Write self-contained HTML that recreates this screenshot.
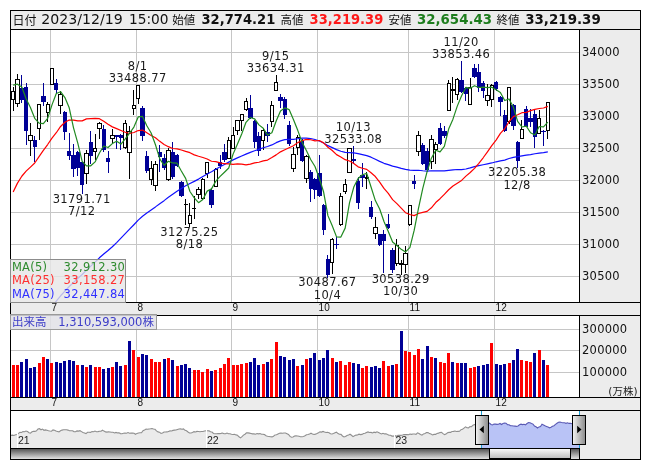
<!DOCTYPE html>
<html><head><meta charset="utf-8"><title>chart</title>
<style>html,body{margin:0;padding:0;background:#fff;}#wrap{position:relative;width:653px;height:470px;overflow:hidden;background:#fff;}</style>
</head><body><div id="wrap">
<svg width="653" height="470" viewBox="0 0 653 470" style="position:absolute;left:0;top:0">
<defs>
<clipPath id="cm"><rect x="11" y="30" width="568" height="272"/></clipPath>
<clipPath id="cv"><rect x="11" y="316" width="568" height="81"/></clipPath>
<clipPath id="cn"><rect x="11" y="411" width="569" height="37"/></clipPath>
<linearGradient id="gtrack" x1="0" y1="0" x2="0" y2="1"><stop offset="0" stop-color="#555"/><stop offset="1" stop-color="#e2e2e2"/></linearGradient>
<linearGradient id="gthumb" x1="0" y1="0" x2="0" y2="1"><stop offset="0" stop-color="#fbfbfb"/><stop offset="1" stop-color="#bdbdbd"/></linearGradient>
<linearGradient id="ghandle" x1="0" y1="0" x2="1" y2="0"><stop offset="0" stop-color="#f4f4f4"/><stop offset="1" stop-color="#8a8a8a"/></linearGradient>
</defs>
<rect x="10" y="10" width="631" height="450" fill="#ececec"/>
<rect x="11" y="30" width="568" height="272" fill="#fff"/>
<rect x="11" y="316" width="568" height="81" fill="#fff"/>
<rect x="11" y="411" width="569" height="37" fill="#fff"/>
<line x1="50.5" y1="30" x2="50.5" y2="302" stroke="#c6c6c6" stroke-width="1"/>
<line x1="50.5" y1="316" x2="50.5" y2="397" stroke="#c6c6c6" stroke-width="1"/>
<line x1="136.5" y1="30" x2="136.5" y2="302" stroke="#c6c6c6" stroke-width="1"/>
<line x1="136.5" y1="316" x2="136.5" y2="397" stroke="#c6c6c6" stroke-width="1"/>
<line x1="231.5" y1="30" x2="231.5" y2="302" stroke="#c6c6c6" stroke-width="1"/>
<line x1="231.5" y1="316" x2="231.5" y2="397" stroke="#c6c6c6" stroke-width="1"/>
<line x1="317.5" y1="30" x2="317.5" y2="302" stroke="#c6c6c6" stroke-width="1"/>
<line x1="317.5" y1="316" x2="317.5" y2="397" stroke="#c6c6c6" stroke-width="1"/>
<line x1="408.5" y1="30" x2="408.5" y2="302" stroke="#c6c6c6" stroke-width="1"/>
<line x1="408.5" y1="316" x2="408.5" y2="397" stroke="#c6c6c6" stroke-width="1"/>
<line x1="494.5" y1="30" x2="494.5" y2="302" stroke="#c6c6c6" stroke-width="1"/>
<line x1="494.5" y1="316" x2="494.5" y2="397" stroke="#c6c6c6" stroke-width="1"/>
<line x1="11" y1="52.5" x2="579" y2="52.5" stroke="#c6c6c6" stroke-width="1"/>
<line x1="11" y1="84.5" x2="579" y2="84.5" stroke="#c6c6c6" stroke-width="1"/>
<line x1="11" y1="116.5" x2="579" y2="116.5" stroke="#c6c6c6" stroke-width="1"/>
<line x1="11" y1="148.5" x2="579" y2="148.5" stroke="#c6c6c6" stroke-width="1"/>
<line x1="11" y1="180.5" x2="579" y2="180.5" stroke="#c6c6c6" stroke-width="1"/>
<line x1="11" y1="212.5" x2="579" y2="212.5" stroke="#c6c6c6" stroke-width="1"/>
<line x1="11" y1="244.5" x2="579" y2="244.5" stroke="#c6c6c6" stroke-width="1"/>
<line x1="11" y1="276.5" x2="579" y2="276.5" stroke="#c6c6c6" stroke-width="1"/>
<line x1="11" y1="329.5" x2="579" y2="329.5" stroke="#c6c6c6" stroke-width="1"/>
<line x1="11" y1="350.5" x2="579" y2="350.5" stroke="#c6c6c6" stroke-width="1"/>
<line x1="11" y1="372.5" x2="579" y2="372.5" stroke="#c6c6c6" stroke-width="1"/>
<g clip-path="url(#cm)">
<line x1="13.5" y1="87" x2="13.5" y2="111" stroke="#000" stroke-width="1"/>
<rect x="11.5" y="91.5" width="3" height="8" fill="#fff" stroke="#000" stroke-width="1"/>
<line x1="17.5" y1="74" x2="17.5" y2="107" stroke="#000" stroke-width="1"/>
<rect x="15.5" y="79.5" width="4" height="24" fill="#fff" stroke="#000" stroke-width="1"/>
<line x1="21.5" y1="75" x2="21.5" y2="103" stroke="#000096" stroke-width="1"/>
<rect x="20" y="88" width="4" height="12" fill="#000096"/>
<line x1="26.5" y1="83" x2="26.5" y2="145" stroke="#000096" stroke-width="1"/>
<rect x="24" y="87" width="4" height="44" fill="#000096"/>
<line x1="30.5" y1="123" x2="30.5" y2="156" stroke="#000" stroke-width="1"/>
<rect x="28.5" y="135.5" width="4" height="5" fill="#fff" stroke="#000" stroke-width="1"/>
<line x1="34.5" y1="136" x2="34.5" y2="162" stroke="#000096" stroke-width="1"/>
<rect x="33" y="140" width="4" height="7" fill="#000096"/>
<line x1="39.5" y1="104" x2="39.5" y2="140" stroke="#000" stroke-width="1"/>
<rect x="37.5" y="104.5" width="3" height="24" fill="#fff" stroke="#000" stroke-width="1"/>
<line x1="43.5" y1="83" x2="43.5" y2="106" stroke="#000096" stroke-width="1"/>
<rect x="41" y="96" width="5" height="6" fill="#000096"/>
<line x1="47.5" y1="102" x2="47.5" y2="122" stroke="#000" stroke-width="1"/>
<rect x="46.5" y="104.5" width="3" height="8" fill="#fff" stroke="#000" stroke-width="1"/>
<line x1="51.5" y1="68" x2="51.5" y2="85" stroke="#000" stroke-width="1"/>
<rect x="50.5" y="68.5" width="3" height="16" fill="#fff" stroke="#000" stroke-width="1"/>
<line x1="56.5" y1="79" x2="56.5" y2="93" stroke="#000096" stroke-width="1"/>
<rect x="54" y="83" width="4" height="7" fill="#000096"/>
<line x1="60.5" y1="91" x2="60.5" y2="114" stroke="#000" stroke-width="1"/>
<rect x="58.5" y="94.5" width="4" height="11" fill="#fff" stroke="#000" stroke-width="1"/>
<line x1="64.5" y1="111" x2="64.5" y2="140" stroke="#000096" stroke-width="1"/>
<rect x="63" y="112" width="4" height="20" fill="#000096"/>
<line x1="69.5" y1="133" x2="69.5" y2="160" stroke="#000096" stroke-width="1"/>
<rect x="67" y="151" width="4" height="5" fill="#000096"/>
<line x1="73.5" y1="144" x2="73.5" y2="177" stroke="#000096" stroke-width="1"/>
<rect x="71" y="155" width="5" height="14" fill="#000096"/>
<line x1="77.5" y1="151" x2="77.5" y2="176" stroke="#000096" stroke-width="1"/>
<rect x="76" y="152" width="4" height="16" fill="#000096"/>
<line x1="82.5" y1="162" x2="82.5" y2="194" stroke="#000096" stroke-width="1"/>
<rect x="80" y="162" width="4" height="23" fill="#000096"/>
<line x1="86.5" y1="150" x2="86.5" y2="184" stroke="#000" stroke-width="1"/>
<rect x="84.5" y="153.5" width="4" height="20" fill="#fff" stroke="#000" stroke-width="1"/>
<line x1="90.5" y1="131" x2="90.5" y2="164" stroke="#000096" stroke-width="1"/>
<rect x="89" y="142" width="4" height="14" fill="#000096"/>
<line x1="95.5" y1="134" x2="95.5" y2="160" stroke="#000" stroke-width="1"/>
<rect x="93.5" y="148.5" width="3" height="3" fill="#fff" stroke="#000" stroke-width="1"/>
<line x1="99.5" y1="122" x2="99.5" y2="139" stroke="#000" stroke-width="1"/>
<rect x="97.5" y="123.5" width="4" height="5" fill="#fff" stroke="#000" stroke-width="1"/>
<line x1="103.5" y1="125" x2="103.5" y2="152" stroke="#000096" stroke-width="1"/>
<rect x="102" y="129" width="4" height="21" fill="#000096"/>
<line x1="108.5" y1="151" x2="108.5" y2="173" stroke="#000096" stroke-width="1"/>
<rect x="106" y="158" width="4" height="4" fill="#000096"/>
<line x1="112.5" y1="129" x2="112.5" y2="144" stroke="#000" stroke-width="1"/>
<rect x="110.5" y="135.5" width="4" height="3" fill="#fff" stroke="#000" stroke-width="1"/>
<line x1="116.5" y1="135" x2="116.5" y2="149" stroke="#000096" stroke-width="1"/>
<rect x="115" y="135" width="4" height="2" fill="#000096"/>
<line x1="120.5" y1="134" x2="120.5" y2="150" stroke="#000096" stroke-width="1"/>
<rect x="119" y="135" width="4" height="3" fill="#000096"/>
<line x1="125.5" y1="120" x2="125.5" y2="149" stroke="#000" stroke-width="1"/>
<rect x="123.5" y="123.5" width="3" height="24" fill="#fff" stroke="#000" stroke-width="1"/>
<line x1="129.5" y1="126" x2="129.5" y2="179" stroke="#000" stroke-width="1"/>
<rect x="127.5" y="131.5" width="4" height="21" fill="#fff" stroke="#000" stroke-width="1"/>
<line x1="133.5" y1="90" x2="133.5" y2="115" stroke="#000" stroke-width="1"/>
<rect x="132.5" y="105.5" width="3" height="3" fill="#fff" stroke="#000" stroke-width="1"/>
<line x1="138.5" y1="85" x2="138.5" y2="104" stroke="#000" stroke-width="1"/>
<rect x="136.5" y="85.5" width="3" height="13" fill="#fff" stroke="#000" stroke-width="1"/>
<line x1="142.5" y1="106" x2="142.5" y2="141" stroke="#000096" stroke-width="1"/>
<rect x="140" y="108" width="5" height="28" fill="#000096"/>
<line x1="146.5" y1="151" x2="146.5" y2="173" stroke="#000096" stroke-width="1"/>
<rect x="145" y="156" width="4" height="15" fill="#000096"/>
<line x1="151.5" y1="161" x2="151.5" y2="185" stroke="#000" stroke-width="1"/>
<rect x="149.5" y="168.5" width="3" height="11" fill="#fff" stroke="#000" stroke-width="1"/>
<line x1="155.5" y1="161" x2="155.5" y2="191" stroke="#000" stroke-width="1"/>
<rect x="153.5" y="164.5" width="4" height="21" fill="#fff" stroke="#000" stroke-width="1"/>
<line x1="159.5" y1="145" x2="159.5" y2="172" stroke="#000096" stroke-width="1"/>
<rect x="158" y="152" width="4" height="5" fill="#000096"/>
<line x1="164.5" y1="154" x2="164.5" y2="170" stroke="#000096" stroke-width="1"/>
<rect x="162" y="158" width="4" height="10" fill="#000096"/>
<line x1="168.5" y1="148" x2="168.5" y2="181" stroke="#000" stroke-width="1"/>
<rect x="166.5" y="150.5" width="4" height="29" fill="#fff" stroke="#000" stroke-width="1"/>
<line x1="172.5" y1="142" x2="172.5" y2="179" stroke="#000096" stroke-width="1"/>
<rect x="171" y="152" width="4" height="25" fill="#000096"/>
<line x1="177.5" y1="154" x2="177.5" y2="167" stroke="#000096" stroke-width="1"/>
<rect x="175" y="155" width="4" height="11" fill="#000096"/>
<line x1="181.5" y1="181" x2="181.5" y2="197" stroke="#000096" stroke-width="1"/>
<rect x="179" y="182" width="5" height="14" fill="#000096"/>
<line x1="185.5" y1="199" x2="185.5" y2="225" stroke="#000" stroke-width="1"/>
<line x1="184" y1="204.5" x2="188" y2="204.5" stroke="#000" stroke-width="1"/>
<line x1="189.5" y1="203" x2="189.5" y2="227" stroke="#000" stroke-width="1"/>
<rect x="188.5" y="215.5" width="3" height="8" fill="#fff" stroke="#000" stroke-width="1"/>
<line x1="194.5" y1="196" x2="194.5" y2="219" stroke="#000" stroke-width="1"/>
<line x1="192" y1="208.5" x2="196" y2="208.5" stroke="#000" stroke-width="1"/>
<line x1="198.5" y1="187" x2="198.5" y2="199" stroke="#000" stroke-width="1"/>
<rect x="196.5" y="189.5" width="4" height="5" fill="#fff" stroke="#000" stroke-width="1"/>
<line x1="202.5" y1="178" x2="202.5" y2="200" stroke="#000" stroke-width="1"/>
<rect x="201.5" y="179.5" width="3" height="19" fill="#fff" stroke="#000" stroke-width="1"/>
<line x1="207.5" y1="162" x2="207.5" y2="178" stroke="#000" stroke-width="1"/>
<rect x="205.5" y="162.5" width="3" height="11" fill="#fff" stroke="#000" stroke-width="1"/>
<line x1="211.5" y1="188" x2="211.5" y2="208" stroke="#000096" stroke-width="1"/>
<rect x="209" y="190" width="5" height="15" fill="#000096"/>
<line x1="215.5" y1="168" x2="215.5" y2="187" stroke="#000" stroke-width="1"/>
<rect x="214.5" y="169.5" width="3" height="17" fill="#fff" stroke="#000" stroke-width="1"/>
<line x1="220.5" y1="155" x2="220.5" y2="169" stroke="#000096" stroke-width="1"/>
<rect x="218" y="162" width="4" height="4" fill="#000096"/>
<line x1="224.5" y1="144" x2="224.5" y2="162" stroke="#000096" stroke-width="1"/>
<rect x="222" y="152" width="5" height="8" fill="#000096"/>
<line x1="228.5" y1="137" x2="228.5" y2="159" stroke="#000" stroke-width="1"/>
<rect x="227.5" y="140.5" width="3" height="18" fill="#fff" stroke="#000" stroke-width="1"/>
<line x1="233.5" y1="127" x2="233.5" y2="149" stroke="#000" stroke-width="1"/>
<rect x="231.5" y="135.5" width="3" height="13" fill="#fff" stroke="#000" stroke-width="1"/>
<line x1="237.5" y1="120" x2="237.5" y2="135" stroke="#000" stroke-width="1"/>
<rect x="235.5" y="120.5" width="4" height="10" fill="#fff" stroke="#000" stroke-width="1"/>
<line x1="241.5" y1="114" x2="241.5" y2="131" stroke="#000" stroke-width="1"/>
<rect x="240.5" y="114.5" width="3" height="6" fill="#fff" stroke="#000" stroke-width="1"/>
<line x1="246.5" y1="98" x2="246.5" y2="111" stroke="#000" stroke-width="1"/>
<rect x="244.5" y="101.5" width="3" height="8" fill="#fff" stroke="#000" stroke-width="1"/>
<line x1="250.5" y1="95" x2="250.5" y2="119" stroke="#000096" stroke-width="1"/>
<rect x="248" y="108" width="5" height="10" fill="#000096"/>
<line x1="254.5" y1="120" x2="254.5" y2="148" stroke="#000096" stroke-width="1"/>
<rect x="253" y="121" width="4" height="21" fill="#000096"/>
<line x1="258.5" y1="132" x2="258.5" y2="156" stroke="#000096" stroke-width="1"/>
<rect x="257" y="136" width="4" height="15" fill="#000096"/>
<line x1="263.5" y1="128" x2="263.5" y2="150" stroke="#000" stroke-width="1"/>
<rect x="261.5" y="130.5" width="3" height="10" fill="#fff" stroke="#000" stroke-width="1"/>
<line x1="267.5" y1="124" x2="267.5" y2="142" stroke="#000096" stroke-width="1"/>
<rect x="265" y="132" width="5" height="4" fill="#000096"/>
<line x1="271.5" y1="101" x2="271.5" y2="127" stroke="#000" stroke-width="1"/>
<rect x="270.5" y="105.5" width="3" height="16" fill="#fff" stroke="#000" stroke-width="1"/>
<line x1="276.5" y1="75" x2="276.5" y2="91" stroke="#000" stroke-width="1"/>
<rect x="274.5" y="82.5" width="3" height="8" fill="#fff" stroke="#000" stroke-width="1"/>
<line x1="280.5" y1="94" x2="280.5" y2="108" stroke="#000096" stroke-width="1"/>
<rect x="278" y="97" width="5" height="4" fill="#000096"/>
<line x1="284.5" y1="97" x2="284.5" y2="119" stroke="#000096" stroke-width="1"/>
<rect x="283" y="99" width="4" height="16" fill="#000096"/>
<line x1="289.5" y1="121" x2="289.5" y2="146" stroke="#000096" stroke-width="1"/>
<rect x="287" y="125" width="4" height="19" fill="#000096"/>
<line x1="293.5" y1="147" x2="293.5" y2="172" stroke="#000" stroke-width="1"/>
<rect x="291.5" y="154.5" width="4" height="14" fill="#fff" stroke="#000" stroke-width="1"/>
<line x1="297.5" y1="135" x2="297.5" y2="155" stroke="#000" stroke-width="1"/>
<rect x="296.5" y="137.5" width="3" height="10" fill="#fff" stroke="#000" stroke-width="1"/>
<line x1="302.5" y1="139" x2="302.5" y2="162" stroke="#000096" stroke-width="1"/>
<rect x="300" y="141" width="4" height="20" fill="#000096"/>
<line x1="306.5" y1="155" x2="306.5" y2="183" stroke="#000" stroke-width="1"/>
<rect x="304.5" y="156.5" width="4" height="22" fill="#fff" stroke="#000" stroke-width="1"/>
<line x1="310.5" y1="170" x2="310.5" y2="202" stroke="#000096" stroke-width="1"/>
<rect x="309" y="172" width="4" height="17" fill="#000096"/>
<line x1="314.5" y1="178" x2="314.5" y2="199" stroke="#000096" stroke-width="1"/>
<rect x="313" y="179" width="4" height="11" fill="#000096"/>
<line x1="319.5" y1="155" x2="319.5" y2="197" stroke="#000096" stroke-width="1"/>
<rect x="317" y="173" width="5" height="23" fill="#000096"/>
<line x1="323.5" y1="204" x2="323.5" y2="235" stroke="#000096" stroke-width="1"/>
<rect x="322" y="205" width="4" height="25" fill="#000096"/>
<line x1="327.5" y1="255" x2="327.5" y2="278" stroke="#000096" stroke-width="1"/>
<rect x="326" y="259" width="4" height="16" fill="#000096"/>
<line x1="332.5" y1="238" x2="332.5" y2="274" stroke="#000" stroke-width="1"/>
<rect x="330.5" y="239.5" width="3" height="23" fill="#fff" stroke="#000" stroke-width="1"/>
<line x1="336.5" y1="237" x2="336.5" y2="249" stroke="#000096" stroke-width="1"/>
<line x1="334" y1="244.5" x2="339" y2="244.5" stroke="#000096" stroke-width="1"/>
<line x1="340.5" y1="193" x2="340.5" y2="226" stroke="#000" stroke-width="1"/>
<rect x="339.5" y="196.5" width="3" height="28" fill="#fff" stroke="#000" stroke-width="1"/>
<line x1="345.5" y1="179" x2="345.5" y2="194" stroke="#000" stroke-width="1"/>
<rect x="343.5" y="184.5" width="3" height="7" fill="#fff" stroke="#000" stroke-width="1"/>
<line x1="349.5" y1="148" x2="349.5" y2="173" stroke="#000" stroke-width="1"/>
<rect x="347.5" y="148.5" width="4" height="24" fill="#fff" stroke="#000" stroke-width="1"/>
<line x1="353.5" y1="146" x2="353.5" y2="164" stroke="#000096" stroke-width="1"/>
<rect x="352" y="159" width="4" height="2" fill="#000096"/>
<line x1="358.5" y1="177" x2="358.5" y2="209" stroke="#000096" stroke-width="1"/>
<rect x="356" y="181" width="4" height="22" fill="#000096"/>
<line x1="362.5" y1="163" x2="362.5" y2="187" stroke="#000096" stroke-width="1"/>
<rect x="360" y="175" width="5" height="3" fill="#000096"/>
<line x1="366.5" y1="172" x2="366.5" y2="189" stroke="#000" stroke-width="1"/>
<rect x="365.5" y="177.5" width="3" height="1" fill="#fff" stroke="#000" stroke-width="1"/>
<line x1="371.5" y1="201" x2="371.5" y2="219" stroke="#000096" stroke-width="1"/>
<rect x="369" y="207" width="4" height="10" fill="#000096"/>
<line x1="375.5" y1="217" x2="375.5" y2="239" stroke="#000" stroke-width="1"/>
<rect x="373.5" y="227.5" width="4" height="6" fill="#fff" stroke="#000" stroke-width="1"/>
<line x1="379.5" y1="234" x2="379.5" y2="246" stroke="#000096" stroke-width="1"/>
<rect x="378" y="234" width="4" height="11" fill="#000096"/>
<line x1="383.5" y1="230" x2="383.5" y2="273" stroke="#000096" stroke-width="1"/>
<rect x="382" y="234" width="4" height="7" fill="#000096"/>
<line x1="388.5" y1="214" x2="388.5" y2="229" stroke="#000096" stroke-width="1"/>
<rect x="386" y="224" width="4" height="4" fill="#000096"/>
<line x1="392.5" y1="248" x2="392.5" y2="273" stroke="#000096" stroke-width="1"/>
<rect x="390" y="250" width="5" height="20" fill="#000096"/>
<line x1="396.5" y1="239" x2="396.5" y2="266" stroke="#000" stroke-width="1"/>
<rect x="395.5" y="245.5" width="3" height="18" fill="#fff" stroke="#000" stroke-width="1"/>
<line x1="401.5" y1="260" x2="401.5" y2="275" stroke="#000" stroke-width="1"/>
<rect x="399.5" y="263.5" width="3" height="1" fill="#fff" stroke="#000" stroke-width="1"/>
<line x1="405.5" y1="246" x2="405.5" y2="273" stroke="#000" stroke-width="1"/>
<rect x="403.5" y="253.5" width="4" height="11" fill="#fff" stroke="#000" stroke-width="1"/>
<line x1="409.5" y1="205" x2="409.5" y2="226" stroke="#000" stroke-width="1"/>
<rect x="408.5" y="205.5" width="3" height="19" fill="#fff" stroke="#000" stroke-width="1"/>
<line x1="414.5" y1="175" x2="414.5" y2="189" stroke="#000096" stroke-width="1"/>
<rect x="412" y="181" width="4" height="3" fill="#000096"/>
<line x1="418.5" y1="131" x2="418.5" y2="156" stroke="#000" stroke-width="1"/>
<rect x="416.5" y="135.5" width="4" height="16" fill="#fff" stroke="#000" stroke-width="1"/>
<line x1="422.5" y1="143" x2="422.5" y2="165" stroke="#000096" stroke-width="1"/>
<rect x="421" y="145" width="4" height="19" fill="#000096"/>
<line x1="427.5" y1="148" x2="427.5" y2="172" stroke="#000096" stroke-width="1"/>
<rect x="425" y="151" width="4" height="19" fill="#000096"/>
<line x1="431.5" y1="135" x2="431.5" y2="169" stroke="#000" stroke-width="1"/>
<rect x="429.5" y="139.5" width="4" height="22" fill="#fff" stroke="#000" stroke-width="1"/>
<line x1="435.5" y1="142" x2="435.5" y2="164" stroke="#000" stroke-width="1"/>
<rect x="434.5" y="144.5" width="3" height="5" fill="#fff" stroke="#000" stroke-width="1"/>
<line x1="440.5" y1="123" x2="440.5" y2="145" stroke="#000096" stroke-width="1"/>
<rect x="438" y="128" width="4" height="16" fill="#000096"/>
<line x1="444.5" y1="126" x2="444.5" y2="138" stroke="#000096" stroke-width="1"/>
<rect x="442" y="131" width="5" height="5" fill="#000096"/>
<line x1="448.5" y1="80" x2="448.5" y2="111" stroke="#000" stroke-width="1"/>
<rect x="447.5" y="83.5" width="3" height="27" fill="#fff" stroke="#000" stroke-width="1"/>
<line x1="452.5" y1="77" x2="452.5" y2="103" stroke="#000" stroke-width="1"/>
<rect x="451.5" y="89.5" width="3" height="1" fill="#fff" stroke="#000" stroke-width="1"/>
<line x1="457.5" y1="78" x2="457.5" y2="100" stroke="#000" stroke-width="1"/>
<rect x="455.5" y="79.5" width="3" height="15" fill="#fff" stroke="#000" stroke-width="1"/>
<line x1="461.5" y1="61" x2="461.5" y2="93" stroke="#000096" stroke-width="1"/>
<rect x="459" y="80" width="5" height="12" fill="#000096"/>
<line x1="465.5" y1="87" x2="465.5" y2="101" stroke="#000096" stroke-width="1"/>
<rect x="464" y="88" width="4" height="6" fill="#000096"/>
<line x1="470.5" y1="78" x2="470.5" y2="105" stroke="#000" stroke-width="1"/>
<rect x="468.5" y="87.5" width="3" height="17" fill="#fff" stroke="#000" stroke-width="1"/>
<line x1="474.5" y1="64" x2="474.5" y2="78" stroke="#000096" stroke-width="1"/>
<rect x="472" y="68" width="5" height="9" fill="#000096"/>
<line x1="478.5" y1="64" x2="478.5" y2="92" stroke="#000096" stroke-width="1"/>
<rect x="477" y="72" width="4" height="16" fill="#000096"/>
<line x1="483.5" y1="81" x2="483.5" y2="98" stroke="#000096" stroke-width="1"/>
<rect x="481" y="83" width="4" height="8" fill="#000096"/>
<line x1="487.5" y1="84" x2="487.5" y2="106" stroke="#000" stroke-width="1"/>
<rect x="485.5" y="95.5" width="4" height="5" fill="#fff" stroke="#000" stroke-width="1"/>
<line x1="491.5" y1="84" x2="491.5" y2="107" stroke="#000" stroke-width="1"/>
<rect x="490.5" y="85.5" width="3" height="14" fill="#fff" stroke="#000" stroke-width="1"/>
<line x1="496.5" y1="81" x2="496.5" y2="91" stroke="#000096" stroke-width="1"/>
<rect x="494" y="82" width="4" height="7" fill="#000096"/>
<line x1="500.5" y1="96" x2="500.5" y2="116" stroke="#000096" stroke-width="1"/>
<rect x="498" y="97" width="5" height="5" fill="#000096"/>
<line x1="504.5" y1="110" x2="504.5" y2="132" stroke="#000096" stroke-width="1"/>
<rect x="503" y="115" width="4" height="16" fill="#000096"/>
<line x1="509.5" y1="87" x2="509.5" y2="124" stroke="#000" stroke-width="1"/>
<rect x="507.5" y="87.5" width="3" height="34" fill="#fff" stroke="#000" stroke-width="1"/>
<line x1="513.5" y1="104" x2="513.5" y2="130" stroke="#000096" stroke-width="1"/>
<rect x="511" y="105" width="5" height="21" fill="#000096"/>
<line x1="517.5" y1="141" x2="517.5" y2="168" stroke="#000096" stroke-width="1"/>
<rect x="516" y="142" width="4" height="19" fill="#000096"/>
<line x1="521.5" y1="120" x2="521.5" y2="139" stroke="#000" stroke-width="1"/>
<rect x="520.5" y="129.5" width="3" height="9" fill="#fff" stroke="#000" stroke-width="1"/>
<line x1="526.5" y1="106" x2="526.5" y2="127" stroke="#000096" stroke-width="1"/>
<rect x="524" y="109" width="4" height="18" fill="#000096"/>
<line x1="530.5" y1="109" x2="530.5" y2="127" stroke="#000096" stroke-width="1"/>
<rect x="528" y="118" width="5" height="4" fill="#000096"/>
<line x1="534.5" y1="110" x2="534.5" y2="148" stroke="#000096" stroke-width="1"/>
<rect x="533" y="114" width="4" height="23" fill="#000096"/>
<line x1="539.5" y1="110" x2="539.5" y2="134" stroke="#000" stroke-width="1"/>
<rect x="537.5" y="118.5" width="3" height="15" fill="#fff" stroke="#000" stroke-width="1"/>
<line x1="543.5" y1="130" x2="543.5" y2="146" stroke="#000096" stroke-width="1"/>
<line x1="541" y1="131.5" x2="546" y2="131.5" stroke="#000096" stroke-width="1"/>
<line x1="547.5" y1="102" x2="547.5" y2="139" stroke="#000" stroke-width="1"/>
<rect x="546.5" y="102.5" width="3" height="28" fill="#fff" stroke="#000" stroke-width="1"/>
</g>
<g clip-path="url(#cm)" fill="none" stroke-width="1.2" stroke-linejoin="round">
<path d="M17.48,340.51 L21.79,335.96 L26.11,332.08 L30.42,328.34 L34.73,324.84 L39.04,320.94 L43.35,316.60 L47.66,312.03 L51.98,306.45 L56.29,301.17 L60.60,295.77 L64.91,291.13 L69.22,286.48 L73.53,282.45 L77.85,278.37 L82.16,274.48 L86.47,270.26 L90.78,266.11 L95.09,262.17 L99.40,257.81 L103.72,254.01 L108.03,250.50 L112.34,246.73 L116.65,242.58 L120.96,238.14 L125.27,233.56 L129.59,229.19 L133.90,224.71 L138.21,220.10 L142.52,216.22 L146.83,213.09 L151.14,209.95 L155.46,206.89 L159.77,203.67 L164.08,200.64 L168.39,197.31 L172.70,194.35 L177.01,191.26 L181.33,188.40 L185.64,185.70 L189.95,183.48 L194.26,181.40 L198.57,179.10 L202.88,176.56 L207.20,173.96 L211.51,171.82 L215.82,169.23 L220.13,166.80 L224.44,164.49 L228.75,162.12 L233.07,159.89 L237.38,157.87 L241.69,155.97 L246.00,154.13 L250.31,152.40 L254.63,150.76 L258.94,149.33 L263.25,147.75 L267.56,146.49 L271.87,144.92 L276.18,142.66 L280.50,140.88 L284.81,139.60 L289.12,139.29 L293.43,139.38 L297.74,138.73 L302.05,138.16 L306.37,138.06 L310.68,138.54 L314.99,139.53 L319.30,141.02 L323.61,142.94 L327.92,145.65 L332.24,147.61 L336.55,149.65 L340.86,151.21 L345.17,152.35 L349.48,152.59 L353.79,152.92 L358.11,153.67 L362.42,154.65 L366.73,155.67 L371.04,157.17 L375.35,159.30 L379.66,161.37 L383.98,163.31 L388.29,164.59 L392.60,166.12 L396.91,167.14 L401.22,168.42 L405.53,169.35 L409.85,170.05 L414.16,170.42 L418.47,170.24 L422.78,170.77 L427.09,171.05 L431.40,170.76 L435.72,170.87 L440.03,170.96 L444.34,170.93 L448.65,170.40 L452.96,169.83 L457.28,169.48 L461.59,169.55 L465.90,169.00 L470.21,167.90 L474.52,166.67 L478.83,165.66 L483.15,164.78 L487.46,163.82 L491.77,162.96 L496.08,161.79 L500.39,160.94 L504.70,160.08 L509.02,158.53 L513.33,157.33 L517.64,156.69 L521.95,155.89 L526.26,155.18 L530.57,154.64 L534.89,153.73 L539.20,153.05 L543.51,152.59 L547.82,151.84" stroke="#1010ff"/>
<path d="M13.17,192.04 L17.48,183.13 L21.79,176.24 L26.11,171.19 L30.42,167.06 L34.73,163.01 L39.04,156.58 L43.35,150.36 L47.66,144.54 L51.98,138.09 L56.29,132.72 L60.60,126.45 L64.91,122.29 L69.22,120.08 L73.53,120.15 L77.85,120.93 L82.16,120.85 L86.47,118.86 L90.78,118.53 L95.09,118.38 L99.40,118.69 L103.72,121.28 L108.03,124.31 L112.34,126.88 L116.65,128.64 L120.96,130.49 L125.27,132.24 L129.59,133.53 L133.90,132.53 L138.21,130.54 L142.52,130.11 L146.83,132.76 L151.14,135.42 L155.46,137.82 L159.77,141.34 L164.08,144.46 L168.39,146.67 L172.70,148.50 L177.01,148.88 L181.33,149.96 L185.64,151.44 L189.95,152.70 L194.26,154.89 L198.57,156.26 L202.88,157.50 L207.20,159.05 L211.51,161.27 L215.82,161.62 L220.13,162.83 L224.44,163.72 L228.75,163.85 L233.07,164.31 L237.38,163.85 L241.69,164.20 L246.00,164.80 L250.31,164.07 L254.63,162.93 L258.94,162.22 L263.25,160.89 L267.56,160.04 L271.87,157.58 L276.18,154.87 L280.50,151.84 L284.81,149.83 L289.12,147.77 L293.43,145.78 L297.74,142.64 L302.05,140.72 L306.37,139.40 L310.68,139.75 L314.99,140.85 L319.30,140.51 L323.61,142.89 L327.92,147.24 L332.24,150.47 L336.55,154.62 L340.86,157.09 L345.17,159.66 L349.48,161.05 L353.79,163.42 L358.11,166.83 L362.42,168.28 L366.73,169.37 L371.04,172.81 L375.35,176.51 L379.66,182.07 L383.98,188.39 L388.29,193.44 L392.60,199.64 L396.91,203.68 L401.22,208.05 L405.53,212.71 L409.85,214.54 L414.16,215.62 L418.47,213.48 L422.78,212.42 L427.09,211.37 L431.40,207.77 L435.72,202.54 L440.03,198.68 L444.34,194.32 L448.65,189.78 L452.96,185.97 L457.28,183.18 L461.59,180.44 L465.90,176.10 L470.21,172.49 L474.52,168.43 L478.83,163.27 L483.15,157.77 L487.46,151.82 L491.77,145.62 L496.08,140.08 L500.39,133.35 L504.70,128.78 L509.02,121.75 L513.33,116.63 L517.64,114.82 L521.95,112.67 L526.26,112.32 L530.57,110.65 L534.89,109.31 L539.20,108.49 L543.51,108.00 L547.82,106.37" stroke="#ff0000"/>
<path d="M13.17,85.10 L17.48,84.17 L21.79,86.99 L26.11,98.82 L30.42,107.42 L34.73,118.31 L39.04,123.19 L43.35,123.58 L47.66,118.36 L51.98,104.87 L56.29,93.55 L60.60,91.70 L64.91,97.60 L69.22,107.85 L73.53,127.86 L77.85,143.46 L82.16,161.32 L86.47,165.84 L90.78,165.81 L95.09,161.91 L99.40,153.05 L103.72,146.05 L108.03,147.53 L112.34,143.57 L116.65,141.15 L120.96,144.07 L125.27,138.94 L129.59,133.12 L133.90,127.08 L138.21,116.92 L142.52,116.41 L146.83,125.78 L151.14,133.03 L155.46,144.78 L159.77,158.85 L164.08,165.29 L168.39,161.27 L172.70,162.97 L177.01,163.17 L181.33,170.98 L185.64,178.38 L189.95,191.48 L194.26,197.80 L198.57,202.70 L202.88,199.58 L207.20,191.12 L211.51,188.90 L215.82,181.16 L220.13,176.42 L224.44,172.28 L228.75,168.03 L233.07,154.13 L237.38,144.28 L241.69,133.92 L246.00,122.30 L250.31,117.54 L254.63,118.87 L258.94,124.90 L263.25,128.24 L267.56,135.08 L271.87,132.81 L276.18,120.96 L280.50,111.04 L284.81,107.87 L289.12,109.61 L293.43,119.41 L297.74,130.34 L302.05,142.22 L306.37,150.56 L310.68,159.50 L314.99,166.47 L319.30,178.23 L323.61,192.02 L327.92,215.64 L332.24,225.84 L336.55,236.89 L340.86,237.06 L345.17,228.12 L349.48,202.93 L353.79,187.05 L358.11,178.55 L362.42,174.79 L366.73,173.43 L371.04,187.05 L375.35,200.58 L379.66,209.02 L383.98,221.54 L388.29,231.42 L392.60,242.03 L396.91,245.46 L401.22,249.33 L405.53,251.93 L409.85,247.69 L414.16,230.43 L418.47,208.46 L422.78,188.30 L427.09,171.56 L431.40,158.19 L435.72,150.27 L440.03,151.85 L444.34,146.43 L448.65,129.10 L452.96,119.15 L457.28,106.13 L461.59,95.85 L465.90,87.43 L470.21,88.29 L474.52,85.72 L478.83,87.48 L483.15,87.22 L487.46,87.64 L491.77,87.19 L496.08,89.68 L500.39,92.45 L504.70,100.54 L509.02,98.95 L513.33,106.99 L517.64,121.37 L521.95,127.00 L526.26,126.14 L530.57,132.79 L534.89,134.99 L539.20,126.51 L543.51,126.93 L547.82,122.11" stroke="#218a21"/>
</g>
<g clip-path="url(#cv)">
<rect x="12" y="365" width="3" height="32" fill="#ff0000"/>
<rect x="16" y="365" width="3" height="32" fill="#ff0000"/>
<rect x="20" y="362" width="3" height="35" fill="#000096"/>
<rect x="25" y="359" width="3" height="38" fill="#000096"/>
<rect x="29" y="368" width="3" height="29" fill="#000096"/>
<rect x="33" y="367" width="3" height="30" fill="#000096"/>
<rect x="38" y="363" width="3" height="34" fill="#ff0000"/>
<rect x="42" y="357" width="3" height="40" fill="#ff0000"/>
<rect x="46" y="359" width="3" height="38" fill="#000096"/>
<rect x="50" y="363" width="3" height="34" fill="#ff0000"/>
<rect x="55" y="362" width="3" height="35" fill="#000096"/>
<rect x="59" y="363" width="3" height="34" fill="#000096"/>
<rect x="63" y="361" width="3" height="36" fill="#000096"/>
<rect x="68" y="360" width="3" height="37" fill="#000096"/>
<rect x="72" y="361" width="3" height="36" fill="#000096"/>
<rect x="76" y="365" width="3" height="32" fill="#ff0000"/>
<rect x="81" y="365" width="3" height="32" fill="#000096"/>
<rect x="85" y="367" width="3" height="30" fill="#ff0000"/>
<rect x="89" y="365" width="3" height="32" fill="#000096"/>
<rect x="94" y="367" width="3" height="30" fill="#ff0000"/>
<rect x="98" y="367" width="3" height="30" fill="#ff0000"/>
<rect x="102" y="369" width="3" height="28" fill="#000096"/>
<rect x="107" y="368" width="3" height="29" fill="#000096"/>
<rect x="111" y="367" width="3" height="30" fill="#ff0000"/>
<rect x="115" y="362" width="3" height="35" fill="#000096"/>
<rect x="119" y="366" width="3" height="31" fill="#000096"/>
<rect x="124" y="365" width="3" height="32" fill="#ff0000"/>
<rect x="128" y="341" width="3" height="56" fill="#000096"/>
<rect x="132" y="350" width="3" height="47" fill="#ff0000"/>
<rect x="137" y="357" width="3" height="40" fill="#ff0000"/>
<rect x="141" y="354" width="3" height="43" fill="#000096"/>
<rect x="145" y="355" width="3" height="42" fill="#000096"/>
<rect x="150" y="359" width="3" height="38" fill="#ff0000"/>
<rect x="154" y="362" width="3" height="35" fill="#ff0000"/>
<rect x="158" y="362" width="3" height="35" fill="#ff0000"/>
<rect x="163" y="359" width="3" height="38" fill="#000096"/>
<rect x="167" y="358" width="3" height="39" fill="#ff0000"/>
<rect x="171" y="360" width="3" height="37" fill="#000096"/>
<rect x="176" y="366" width="3" height="31" fill="#ff0000"/>
<rect x="180" y="365" width="3" height="32" fill="#000096"/>
<rect x="184" y="364" width="3" height="33" fill="#000096"/>
<rect x="188" y="368" width="3" height="29" fill="#000096"/>
<rect x="193" y="370" width="3" height="27" fill="#ff0000"/>
<rect x="197" y="370" width="3" height="27" fill="#ff0000"/>
<rect x="201" y="372" width="3" height="25" fill="#ff0000"/>
<rect x="206" y="369" width="3" height="28" fill="#ff0000"/>
<rect x="210" y="371" width="3" height="26" fill="#000096"/>
<rect x="214" y="370" width="3" height="27" fill="#ff0000"/>
<rect x="219" y="368" width="3" height="29" fill="#ff0000"/>
<rect x="223" y="364" width="3" height="33" fill="#ff0000"/>
<rect x="227" y="358" width="3" height="39" fill="#ff0000"/>
<rect x="232" y="365" width="3" height="32" fill="#ff0000"/>
<rect x="236" y="365" width="3" height="32" fill="#ff0000"/>
<rect x="240" y="364" width="3" height="33" fill="#ff0000"/>
<rect x="245" y="363" width="3" height="34" fill="#ff0000"/>
<rect x="249" y="362" width="3" height="35" fill="#000096"/>
<rect x="253" y="358" width="3" height="39" fill="#000096"/>
<rect x="257" y="365" width="3" height="32" fill="#000096"/>
<rect x="262" y="364" width="3" height="33" fill="#ff0000"/>
<rect x="266" y="362" width="3" height="35" fill="#000096"/>
<rect x="270" y="359" width="3" height="38" fill="#ff0000"/>
<rect x="275" y="342" width="3" height="55" fill="#ff0000"/>
<rect x="279" y="356" width="3" height="41" fill="#000096"/>
<rect x="283" y="357" width="3" height="40" fill="#000096"/>
<rect x="288" y="360" width="3" height="37" fill="#000096"/>
<rect x="292" y="359" width="3" height="38" fill="#000096"/>
<rect x="296" y="366" width="3" height="31" fill="#ff0000"/>
<rect x="301" y="365" width="3" height="32" fill="#000096"/>
<rect x="305" y="359" width="3" height="38" fill="#ff0000"/>
<rect x="309" y="358" width="3" height="39" fill="#000096"/>
<rect x="313" y="353" width="3" height="44" fill="#000096"/>
<rect x="318" y="360" width="3" height="37" fill="#000096"/>
<rect x="322" y="358" width="3" height="39" fill="#000096"/>
<rect x="326" y="350" width="3" height="47" fill="#000096"/>
<rect x="331" y="358" width="3" height="39" fill="#ff0000"/>
<rect x="335" y="362" width="3" height="35" fill="#000096"/>
<rect x="339" y="361" width="3" height="36" fill="#ff0000"/>
<rect x="344" y="365" width="3" height="32" fill="#ff0000"/>
<rect x="348" y="362" width="3" height="35" fill="#ff0000"/>
<rect x="352" y="363" width="3" height="34" fill="#000096"/>
<rect x="357" y="364" width="3" height="33" fill="#000096"/>
<rect x="361" y="368" width="3" height="29" fill="#ff0000"/>
<rect x="365" y="366" width="3" height="31" fill="#ff0000"/>
<rect x="370" y="367" width="3" height="30" fill="#000096"/>
<rect x="374" y="366" width="3" height="31" fill="#000096"/>
<rect x="378" y="368" width="3" height="29" fill="#000096"/>
<rect x="382" y="361" width="3" height="36" fill="#ff0000"/>
<rect x="387" y="366" width="3" height="31" fill="#ff0000"/>
<rect x="391" y="365" width="3" height="32" fill="#000096"/>
<rect x="395" y="364" width="3" height="33" fill="#ff0000"/>
<rect x="400" y="331" width="3" height="66" fill="#000096"/>
<rect x="404" y="351" width="3" height="46" fill="#ff0000"/>
<rect x="408" y="352" width="3" height="45" fill="#ff0000"/>
<rect x="413" y="355" width="3" height="42" fill="#ff0000"/>
<rect x="417" y="349" width="3" height="48" fill="#ff0000"/>
<rect x="421" y="359" width="3" height="38" fill="#000096"/>
<rect x="426" y="346" width="3" height="51" fill="#000096"/>
<rect x="430" y="357" width="3" height="40" fill="#ff0000"/>
<rect x="434" y="358" width="3" height="39" fill="#000096"/>
<rect x="439" y="362" width="3" height="35" fill="#ff0000"/>
<rect x="443" y="363" width="3" height="34" fill="#ff0000"/>
<rect x="447" y="353" width="3" height="44" fill="#ff0000"/>
<rect x="451" y="362" width="3" height="35" fill="#000096"/>
<rect x="456" y="363" width="3" height="34" fill="#ff0000"/>
<rect x="460" y="363" width="3" height="34" fill="#000096"/>
<rect x="464" y="363" width="3" height="34" fill="#000096"/>
<rect x="469" y="368" width="3" height="29" fill="#ff0000"/>
<rect x="473" y="367" width="3" height="30" fill="#ff0000"/>
<rect x="477" y="366" width="3" height="31" fill="#000096"/>
<rect x="482" y="365" width="3" height="32" fill="#000096"/>
<rect x="486" y="364" width="3" height="33" fill="#000096"/>
<rect x="490" y="343" width="3" height="54" fill="#ff0000"/>
<rect x="495" y="364" width="3" height="33" fill="#000096"/>
<rect x="499" y="365" width="3" height="32" fill="#000096"/>
<rect x="503" y="364" width="3" height="33" fill="#000096"/>
<rect x="508" y="363" width="3" height="34" fill="#ff0000"/>
<rect x="512" y="360" width="3" height="37" fill="#000096"/>
<rect x="516" y="349" width="3" height="48" fill="#000096"/>
<rect x="520" y="360" width="3" height="37" fill="#ff0000"/>
<rect x="525" y="361" width="3" height="36" fill="#ff0000"/>
<rect x="529" y="362" width="3" height="35" fill="#ff0000"/>
<rect x="533" y="353" width="3" height="44" fill="#000096"/>
<rect x="538" y="350" width="3" height="47" fill="#ff0000"/>
<rect x="542" y="360" width="3" height="37" fill="#000096"/>
<rect x="546" y="365" width="3" height="32" fill="#ff0000"/>
</g>
<line x1="10" y1="10.5" x2="641" y2="10.5" stroke="#000" stroke-width="1"/>
<line x1="10" y1="459.5" x2="641" y2="459.5" stroke="#000" stroke-width="1"/>
<line x1="10.5" y1="10" x2="10.5" y2="460" stroke="#000" stroke-width="1"/>
<line x1="640.5" y1="10" x2="640.5" y2="460" stroke="#000" stroke-width="1"/>
<line x1="10" y1="29.5" x2="641" y2="29.5" stroke="#000" stroke-width="1"/>
<line x1="10" y1="302.5" x2="641" y2="302.5" stroke="#000" stroke-width="1"/>
<line x1="10" y1="315.5" x2="641" y2="315.5" stroke="#000" stroke-width="1"/>
<line x1="10" y1="397.5" x2="641" y2="397.5" stroke="#000" stroke-width="1"/>
<line x1="10" y1="410.5" x2="641" y2="410.5" stroke="#000" stroke-width="1"/>
<line x1="10" y1="448.5" x2="580" y2="448.5" stroke="#000" stroke-width="1"/>
<line x1="579.5" y1="29" x2="579.5" y2="303" stroke="#000" stroke-width="1"/>
<line x1="579.5" y1="315" x2="579.5" y2="398" stroke="#000" stroke-width="1"/>
<text x="582" y="55.9" font-family='"DejaVu Sans", "Liberation Sans", sans-serif' font-size="11.5" letter-spacing="0.25" fill="#111">34000</text>
<text x="582" y="87.9" font-family='"DejaVu Sans", "Liberation Sans", sans-serif' font-size="11.5" letter-spacing="0.25" fill="#111">33500</text>
<text x="582" y="119.9" font-family='"DejaVu Sans", "Liberation Sans", sans-serif' font-size="11.5" letter-spacing="0.25" fill="#111">33000</text>
<text x="582" y="151.9" font-family='"DejaVu Sans", "Liberation Sans", sans-serif' font-size="11.5" letter-spacing="0.25" fill="#111">32500</text>
<text x="582" y="183.9" font-family='"DejaVu Sans", "Liberation Sans", sans-serif' font-size="11.5" letter-spacing="0.25" fill="#111">32000</text>
<text x="582" y="215.9" font-family='"DejaVu Sans", "Liberation Sans", sans-serif' font-size="11.5" letter-spacing="0.25" fill="#111">31500</text>
<text x="582" y="247.9" font-family='"DejaVu Sans", "Liberation Sans", sans-serif' font-size="11.5" letter-spacing="0.25" fill="#111">31000</text>
<text x="582" y="279.9" font-family='"DejaVu Sans", "Liberation Sans", sans-serif' font-size="11.5" letter-spacing="0.25" fill="#111">30500</text>
<text x="582" y="333.0" font-family='"DejaVu Sans", "Liberation Sans", sans-serif' font-size="11.5" letter-spacing="0.25" fill="#111">300000</text>
<text x="582" y="354.0" font-family='"DejaVu Sans", "Liberation Sans", sans-serif' font-size="11.5" letter-spacing="0.25" fill="#111">200000</text>
<text x="582" y="376.0" font-family='"DejaVu Sans", "Liberation Sans", sans-serif' font-size="11.5" letter-spacing="0.25" fill="#111">100000</text>
<text x="637.5" y="394.5" text-anchor="end" font-family='"DejaVu Sans", "Noto Sans CJK JP", sans-serif' font-size="10.5" fill="#222">(万株)</text>
<text x="51.6" y="311" font-family='"Liberation Sans", sans-serif' font-size="10" fill="#111">7</text>
<text x="51.6" y="406" font-family='"Liberation Sans", sans-serif' font-size="10" fill="#111">7</text>
<text x="137.6" y="311" font-family='"Liberation Sans", sans-serif' font-size="10" fill="#111">8</text>
<text x="137.6" y="406" font-family='"Liberation Sans", sans-serif' font-size="10" fill="#111">8</text>
<text x="232.6" y="311" font-family='"Liberation Sans", sans-serif' font-size="10" fill="#111">9</text>
<text x="232.6" y="406" font-family='"Liberation Sans", sans-serif' font-size="10" fill="#111">9</text>
<text x="318.6" y="311" font-family='"Liberation Sans", sans-serif' font-size="10" fill="#111">10</text>
<text x="318.6" y="406" font-family='"Liberation Sans", sans-serif' font-size="10" fill="#111">10</text>
<text x="409.6" y="311" font-family='"Liberation Sans", sans-serif' font-size="10" fill="#111">11</text>
<text x="409.6" y="406" font-family='"Liberation Sans", sans-serif' font-size="10" fill="#111">11</text>
<text x="495.6" y="311" font-family='"Liberation Sans", sans-serif' font-size="10" fill="#111">12</text>
<text x="495.6" y="406" font-family='"Liberation Sans", sans-serif' font-size="10" fill="#111">12</text>
<text x="81.7" y="202.7" text-anchor="middle" font-family='"DejaVu Sans", "Liberation Sans", sans-serif' font-size="11.5" letter-spacing="0.4" fill="#1a1a1a">31791.71</text>
<text x="81.7" y="215.1" text-anchor="middle" font-family='"DejaVu Sans", "Liberation Sans", sans-serif' font-size="11.5" letter-spacing="0.4" fill="#1a1a1a">7/12</text>
<text x="137.7" y="69.7" text-anchor="middle" font-family='"DejaVu Sans", "Liberation Sans", sans-serif' font-size="11.5" letter-spacing="0.4" fill="#1a1a1a">8/1</text>
<text x="137.7" y="81.7" text-anchor="middle" font-family='"DejaVu Sans", "Liberation Sans", sans-serif' font-size="11.5" letter-spacing="0.4" fill="#1a1a1a">33488.77</text>
<text x="189.4" y="235.8" text-anchor="middle" font-family='"DejaVu Sans", "Liberation Sans", sans-serif' font-size="11.5" letter-spacing="0.4" fill="#1a1a1a">31275.25</text>
<text x="189.4" y="248.2" text-anchor="middle" font-family='"DejaVu Sans", "Liberation Sans", sans-serif' font-size="11.5" letter-spacing="0.4" fill="#1a1a1a">8/18</text>
<text x="275.7" y="60.2" text-anchor="middle" font-family='"DejaVu Sans", "Liberation Sans", sans-serif' font-size="11.5" letter-spacing="0.4" fill="#1a1a1a">9/15</text>
<text x="275.7" y="72.2" text-anchor="middle" font-family='"DejaVu Sans", "Liberation Sans", sans-serif' font-size="11.5" letter-spacing="0.4" fill="#1a1a1a">33634.31</text>
<text x="327.4" y="286.2" text-anchor="middle" font-family='"DejaVu Sans", "Liberation Sans", sans-serif' font-size="11.5" letter-spacing="0.4" fill="#1a1a1a">30487.67</text>
<text x="327.4" y="298.6" text-anchor="middle" font-family='"DejaVu Sans", "Liberation Sans", sans-serif' font-size="11.5" letter-spacing="0.4" fill="#1a1a1a">10/4</text>
<text x="353.3" y="130.7" text-anchor="middle" font-family='"DejaVu Sans", "Liberation Sans", sans-serif' font-size="11.5" letter-spacing="0.4" fill="#1a1a1a">10/13</text>
<text x="353.3" y="142.7" text-anchor="middle" font-family='"DejaVu Sans", "Liberation Sans", sans-serif' font-size="11.5" letter-spacing="0.4" fill="#1a1a1a">32533.08</text>
<text x="400.7" y="282.9" text-anchor="middle" font-family='"DejaVu Sans", "Liberation Sans", sans-serif' font-size="11.5" letter-spacing="0.4" fill="#1a1a1a">30538.29</text>
<text x="400.7" y="295.3" text-anchor="middle" font-family='"DejaVu Sans", "Liberation Sans", sans-serif' font-size="11.5" letter-spacing="0.4" fill="#1a1a1a">10/30</text>
<text x="461.1" y="46.2" text-anchor="middle" font-family='"DejaVu Sans", "Liberation Sans", sans-serif' font-size="11.5" letter-spacing="0.4" fill="#1a1a1a">11/20</text>
<text x="461.1" y="58.2" text-anchor="middle" font-family='"DejaVu Sans", "Liberation Sans", sans-serif' font-size="11.5" letter-spacing="0.4" fill="#1a1a1a">33853.46</text>
<text x="517.1" y="176.1" text-anchor="middle" font-family='"DejaVu Sans", "Liberation Sans", sans-serif' font-size="11.5" letter-spacing="0.4" fill="#1a1a1a">32205.38</text>
<text x="517.1" y="188.5" text-anchor="middle" font-family='"DejaVu Sans", "Liberation Sans", sans-serif' font-size="11.5" letter-spacing="0.4" fill="#1a1a1a">12/8</text>
<rect x="10.5" y="259.5" width="115" height="43" fill="#e6e6e6" fill-opacity="0.8" stroke="#8c8c8c" stroke-width="1"/>
<text x="12" y="270.6" font-family='"DejaVu Sans", "Liberation Sans", sans-serif' font-size="11.5" letter-spacing="0.2" fill="#2e8b2e">MA(5)</text>
<text x="125.3" y="270.6" text-anchor="end" font-family='"DejaVu Sans", "Liberation Sans", sans-serif' font-size="11.5" letter-spacing="0.35" fill="#2e8b2e">32,912.30</text>
<text x="12" y="284.1" font-family='"DejaVu Sans", "Liberation Sans", sans-serif' font-size="11.5" letter-spacing="0.2" fill="#ff3030">MA(25)</text>
<text x="125.3" y="284.1" text-anchor="end" font-family='"DejaVu Sans", "Liberation Sans", sans-serif' font-size="11.5" letter-spacing="0.35" fill="#ff3030">33,158.27</text>
<text x="12" y="297.6" font-family='"DejaVu Sans", "Liberation Sans", sans-serif' font-size="11.5" letter-spacing="0.2" fill="#3030ff">MA(75)</text>
<text x="125.3" y="297.6" text-anchor="end" font-family='"DejaVu Sans", "Liberation Sans", sans-serif' font-size="11.5" letter-spacing="0.35" fill="#3030ff">32,447.84</text>
<rect x="10.5" y="314.5" width="146" height="15" fill="#e0e0e6" fill-opacity="0.85" stroke="#9a9a9a" stroke-width="1"/>
<text x="12" y="325.8" font-family='"DejaVu Sans", "Noto Sans CJK JP", sans-serif' font-size="11.5" fill="#3c3cc8">出来高</text>
<text x="58.3" y="325.8" font-family='"DejaVu Sans", "Noto Sans CJK JP", sans-serif' font-size="11.5" fill="#3c3cc8">1,310,593,000株</text>
<text x="12.6" y="24.6" font-family='"DejaVu Sans", "Noto Sans CJK JP", sans-serif' font-size="12" font-weight="normal" fill="#111">日付</text>
<text x="41.2" y="23.5" font-family='"DejaVu Sans", "Liberation Sans", sans-serif' font-size="13.6" font-weight="normal" fill="#111" textLength="81.6" lengthAdjust="spacingAndGlyphs">2023/12/19</text>
<text x="129.0" y="23.5" font-family='"DejaVu Sans", "Liberation Sans", sans-serif' font-size="13.6" font-weight="normal" fill="#111" textLength="39.6" lengthAdjust="spacingAndGlyphs">15:00</text>
<text x="172.3" y="24.4" font-family='"DejaVu Sans", "Noto Sans CJK JP", sans-serif' font-size="11.5" font-weight="normal" fill="#111">始値</text>
<text x="201.5" y="24.3" font-family='"DejaVu Sans", "Liberation Sans", sans-serif' font-size="13.3" font-weight="bold" fill="#111" textLength="73.8" lengthAdjust="spacingAndGlyphs">32,774.21</text>
<text x="280.6" y="24.4" font-family='"DejaVu Sans", "Noto Sans CJK JP", sans-serif' font-size="11.5" font-weight="normal" fill="#111">高値</text>
<text x="309.6" y="24.3" font-family='"DejaVu Sans", "Liberation Sans", sans-serif' font-size="13.3" font-weight="bold" fill="#ff1a1a" textLength="73.7" lengthAdjust="spacingAndGlyphs">33,219.39</text>
<text x="388.4" y="24.4" font-family='"DejaVu Sans", "Noto Sans CJK JP", sans-serif' font-size="11.5" font-weight="normal" fill="#111">安値</text>
<text x="417.0" y="24.3" font-family='"DejaVu Sans", "Liberation Sans", sans-serif' font-size="13.3" font-weight="bold" fill="#1e7d1e" textLength="75.0" lengthAdjust="spacingAndGlyphs">32,654.43</text>
<text x="496.6" y="24.4" font-family='"DejaVu Sans", "Noto Sans CJK JP", sans-serif' font-size="11.5" font-weight="normal" fill="#111">終値</text>
<text x="525.2" y="24.3" font-family='"DejaVu Sans", "Liberation Sans", sans-serif' font-size="13.3" font-weight="bold" fill="#111" textLength="75.6" lengthAdjust="spacingAndGlyphs">33,219.39</text>
<g clip-path="url(#cn)">
<path d="M11.0,448 L11.0,435.4 L12.5,435.1 L14.0,435.5 L15.5,434.7 L17.0,434.5 L18.5,433.4 L20.0,432.4 L21.5,432.5 L23.0,431.6 L24.5,431.8 L26.0,431.1 L27.5,431.6 L29.0,432.7 L30.5,433.1 L32.0,431.8 L33.5,431.4 L35.0,431.4 L36.5,430.8 L38.0,429.0 L39.5,428.6 L41.0,429.8 L42.5,429.1 L44.0,430.3 L45.5,429.9 L47.0,430.2 L48.5,430.7 L50.0,431.0 L51.5,431.2 L53.0,429.9 L54.5,430.3 L56.0,431.1 L57.5,431.5 L59.0,431.9 L60.5,430.7 L62.0,430.1 L63.5,429.7 L65.0,429.8 L66.5,429.8 L68.0,430.1 L69.5,430.7 L71.0,430.8 L72.5,430.8 L74.0,431.6 L75.5,431.7 L77.0,430.9 L78.5,431.1 L80.0,430.7 L81.5,431.6 L83.0,432.5 L84.5,433.0 L86.0,433.6 L87.5,432.3 L89.0,432.3 L90.5,432.4 L92.0,431.6 L93.5,431.8 L95.0,431.1 L96.5,431.7 L98.0,431.6 L99.5,431.2 L101.0,431.2 L102.5,430.2 L104.0,431.1 L105.5,431.9 L107.0,432.1 L108.5,431.7 L110.0,432.0 L111.5,432.3 L113.0,432.2 L114.5,432.9 L116.0,432.4 L117.5,432.9 L119.0,432.8 L120.5,433.6 L122.0,433.7 L123.5,433.2 L125.0,433.1 L126.5,433.2 L128.0,432.6 L129.5,433.2 L131.0,433.0 L132.5,433.1 L134.0,433.3 L135.5,434.3 L137.0,433.4 L138.5,433.0 L140.0,432.8 L141.5,432.8 L143.0,430.7 L144.5,430.1 L146.0,429.1 L147.5,429.3 L149.0,429.0 L150.5,428.8 L152.0,428.5 L153.5,429.0 L155.0,429.3 L156.5,430.9 L158.0,431.9 L159.5,432.2 L161.0,433.5 L162.5,433.0 L164.0,432.0 L165.5,432.0 L167.0,431.9 L168.5,431.4 L170.0,430.9 L171.5,431.0 L173.0,430.4 L174.5,430.1 L176.0,430.0 L177.5,429.4 L179.0,429.0 L180.5,428.9 L182.0,429.3 L183.5,428.9 L185.0,430.3 L186.5,430.8 L188.0,432.0 L189.5,433.0 L191.0,433.0 L192.5,432.5 L194.0,431.6 L195.5,432.0 L197.0,431.4 L198.5,431.5 L200.0,431.7 L201.5,431.5 L203.0,431.5 L204.5,431.0 L206.0,430.7 L207.5,430.7 L209.0,430.9 L210.5,431.8 L212.0,432.0 L213.5,433.5 L215.0,433.7 L216.5,433.7 L218.0,433.6 L219.5,433.6 L221.0,433.4 L222.5,433.0 L224.0,433.7 L225.5,433.7 L227.0,433.1 L228.5,433.7 L230.0,433.7 L231.5,434.2 L233.0,434.5 L234.5,434.3 L236.0,434.9 L237.5,435.3 L239.0,436.8 L240.5,437.9 L242.0,436.7 L243.5,435.1 L245.0,434.2 L246.5,432.8 L248.0,432.9 L249.5,433.1 L251.0,433.5 L252.5,433.9 L254.0,433.9 L255.5,434.2 L257.0,433.5 L258.5,433.9 L260.0,433.5 L261.5,434.3 L263.0,434.3 L264.5,434.6 L266.0,435.7 L267.5,436.3 L269.0,436.5 L270.5,436.8 L272.0,436.9 L273.5,436.2 L275.0,434.9 L276.5,434.7 L278.0,433.9 L279.5,433.3 L281.0,433.1 L282.5,433.2 L284.0,433.0 L285.5,433.0 L287.0,433.7 L288.5,434.4 L290.0,436.4 L291.5,437.2 L293.0,437.0 L294.5,436.1 L296.0,435.8 L297.5,436.0 L299.0,436.3 L300.5,436.7 L302.0,436.8 L303.5,436.5 L305.0,435.8 L306.5,434.8 L308.0,434.5 L309.5,434.1 L311.0,433.2 L312.5,434.1 L314.0,434.5 L315.5,434.1 L317.0,433.6 L318.5,432.8 L320.0,431.9 L321.5,432.1 L323.0,431.4 L324.5,432.1 L326.0,432.5 L327.5,432.2 L329.0,432.7 L330.5,433.8 L332.0,434.0 L333.5,433.5 L335.0,432.8 L336.5,432.2 L338.0,433.6 L339.5,434.3 L341.0,434.4 L342.5,436.0 L344.0,437.0 L345.5,436.5 L347.0,435.5 L348.5,435.1 L350.0,434.2 L351.5,435.3 L353.0,436.6 L354.5,435.7 L356.0,435.1 L357.5,435.0 L359.0,434.2 L360.5,434.6 L362.0,434.4 L363.5,433.5 L365.0,433.3 L366.5,432.5 L368.0,431.9 L369.5,432.5 L371.0,432.4 L372.5,432.9 L374.0,432.2 L375.5,432.6 L377.0,431.8 L378.5,432.5 L380.0,433.3 L381.5,433.9 L383.0,433.3 L384.5,433.9 L386.0,433.8 L387.5,434.6 L389.0,435.3 L390.5,435.3 L392.0,436.1 L393.5,436.1 L395.0,435.7 L396.5,436.3 L398.0,435.3 L399.5,435.4 L401.0,435.4 L402.5,435.0 L404.0,434.5 L405.5,434.6 L407.0,434.6 L408.5,434.8 L410.0,434.0 L411.5,434.4 L413.0,434.0 L414.5,434.0 L416.0,434.3 L417.5,432.8 L419.0,433.5 L420.5,434.4 L422.0,435.2 L423.5,433.9 L425.0,433.4 L426.5,432.6 L428.0,432.6 L429.5,433.6 L431.0,434.1 L432.5,434.9 L434.0,434.4 L435.5,434.4 L437.0,433.5 L438.5,433.1 L440.0,432.6 L441.5,432.3 L443.0,433.6 L444.5,434.6 L446.0,434.1 L447.5,432.8 L449.0,432.4 L450.5,432.4 L452.0,431.5 L453.5,431.4 L455.0,431.0 L456.5,431.5 L458.0,431.4 L459.5,431.3 L461.0,429.7 L462.5,429.3 L464.0,428.1 L465.5,426.9 L467.0,427.8 L468.5,427.9 L470.0,426.6 L471.5,426.7 L473.0,425.2 L474.5,424.5 L476.0,424.7 L477.5,424.4 L479.0,423.4 L480.5,423.5 L482.0,423.5 L482.0,448 Z" fill="#ebebeb"/>
<path d="M482.0,448 L482.0,423.5 L483.5,423.2 L485.0,422.9 L486.5,422.9 L488.0,423.3 L489.5,423.0 L491.0,424.4 L492.5,424.9 L494.0,424.0 L495.5,424.1 L497.0,424.4 L498.5,424.2 L500.0,423.5 L501.5,424.5 L503.0,423.5 L504.5,423.0 L506.0,423.2 L507.5,424.6 L509.0,424.7 L510.5,425.8 L512.0,425.7 L513.5,426.0 L515.0,426.1 L516.5,426.4 L518.0,425.9 L519.5,424.8 L521.0,424.2 L522.5,424.6 L524.0,424.3 L525.5,424.8 L527.0,423.5 L528.5,422.6 L530.0,422.8 L531.5,423.5 L533.0,424.1 L534.5,426.1 L536.0,426.8 L537.5,428.0 L539.0,426.9 L540.5,426.5 L542.0,424.2 L543.5,425.0 L545.0,425.8 L546.5,426.4 L548.0,427.0 L549.5,427.8 L551.0,427.3 L552.5,426.3 L554.0,425.7 L555.5,424.4 L557.0,423.2 L558.5,422.3 L560.0,422.0 L561.5,422.5 L563.0,422.8 L564.5,422.8 L566.0,423.3 L567.5,422.8 L569.0,423.4 L570.5,423.3 L572.0,423.8 L573.5,423.4 L575.0,423.7 L576.5,423.4 L578.0,424.3 L579.5,424.1 L579.5,448 Z" fill="#b9c3f6"/>
<path d="M11.0,435.4 L12.5,435.1 L14.0,435.5 L15.5,434.7 L17.0,434.5 L18.5,433.4 L20.0,432.4 L21.5,432.5 L23.0,431.6 L24.5,431.8 L26.0,431.1 L27.5,431.6 L29.0,432.7 L30.5,433.1 L32.0,431.8 L33.5,431.4 L35.0,431.4 L36.5,430.8 L38.0,429.0 L39.5,428.6 L41.0,429.8 L42.5,429.1 L44.0,430.3 L45.5,429.9 L47.0,430.2 L48.5,430.7 L50.0,431.0 L51.5,431.2 L53.0,429.9 L54.5,430.3 L56.0,431.1 L57.5,431.5 L59.0,431.9 L60.5,430.7 L62.0,430.1 L63.5,429.7 L65.0,429.8 L66.5,429.8 L68.0,430.1 L69.5,430.7 L71.0,430.8 L72.5,430.8 L74.0,431.6 L75.5,431.7 L77.0,430.9 L78.5,431.1 L80.0,430.7 L81.5,431.6 L83.0,432.5 L84.5,433.0 L86.0,433.6 L87.5,432.3 L89.0,432.3 L90.5,432.4 L92.0,431.6 L93.5,431.8 L95.0,431.1 L96.5,431.7 L98.0,431.6 L99.5,431.2 L101.0,431.2 L102.5,430.2 L104.0,431.1 L105.5,431.9 L107.0,432.1 L108.5,431.7 L110.0,432.0 L111.5,432.3 L113.0,432.2 L114.5,432.9 L116.0,432.4 L117.5,432.9 L119.0,432.8 L120.5,433.6 L122.0,433.7 L123.5,433.2 L125.0,433.1 L126.5,433.2 L128.0,432.6 L129.5,433.2 L131.0,433.0 L132.5,433.1 L134.0,433.3 L135.5,434.3 L137.0,433.4 L138.5,433.0 L140.0,432.8 L141.5,432.8 L143.0,430.7 L144.5,430.1 L146.0,429.1 L147.5,429.3 L149.0,429.0 L150.5,428.8 L152.0,428.5 L153.5,429.0 L155.0,429.3 L156.5,430.9 L158.0,431.9 L159.5,432.2 L161.0,433.5 L162.5,433.0 L164.0,432.0 L165.5,432.0 L167.0,431.9 L168.5,431.4 L170.0,430.9 L171.5,431.0 L173.0,430.4 L174.5,430.1 L176.0,430.0 L177.5,429.4 L179.0,429.0 L180.5,428.9 L182.0,429.3 L183.5,428.9 L185.0,430.3 L186.5,430.8 L188.0,432.0 L189.5,433.0 L191.0,433.0 L192.5,432.5 L194.0,431.6 L195.5,432.0 L197.0,431.4 L198.5,431.5 L200.0,431.7 L201.5,431.5 L203.0,431.5 L204.5,431.0 L206.0,430.7 L207.5,430.7 L209.0,430.9 L210.5,431.8 L212.0,432.0 L213.5,433.5 L215.0,433.7 L216.5,433.7 L218.0,433.6 L219.5,433.6 L221.0,433.4 L222.5,433.0 L224.0,433.7 L225.5,433.7 L227.0,433.1 L228.5,433.7 L230.0,433.7 L231.5,434.2 L233.0,434.5 L234.5,434.3 L236.0,434.9 L237.5,435.3 L239.0,436.8 L240.5,437.9 L242.0,436.7 L243.5,435.1 L245.0,434.2 L246.5,432.8 L248.0,432.9 L249.5,433.1 L251.0,433.5 L252.5,433.9 L254.0,433.9 L255.5,434.2 L257.0,433.5 L258.5,433.9 L260.0,433.5 L261.5,434.3 L263.0,434.3 L264.5,434.6 L266.0,435.7 L267.5,436.3 L269.0,436.5 L270.5,436.8 L272.0,436.9 L273.5,436.2 L275.0,434.9 L276.5,434.7 L278.0,433.9 L279.5,433.3 L281.0,433.1 L282.5,433.2 L284.0,433.0 L285.5,433.0 L287.0,433.7 L288.5,434.4 L290.0,436.4 L291.5,437.2 L293.0,437.0 L294.5,436.1 L296.0,435.8 L297.5,436.0 L299.0,436.3 L300.5,436.7 L302.0,436.8 L303.5,436.5 L305.0,435.8 L306.5,434.8 L308.0,434.5 L309.5,434.1 L311.0,433.2 L312.5,434.1 L314.0,434.5 L315.5,434.1 L317.0,433.6 L318.5,432.8 L320.0,431.9 L321.5,432.1 L323.0,431.4 L324.5,432.1 L326.0,432.5 L327.5,432.2 L329.0,432.7 L330.5,433.8 L332.0,434.0 L333.5,433.5 L335.0,432.8 L336.5,432.2 L338.0,433.6 L339.5,434.3 L341.0,434.4 L342.5,436.0 L344.0,437.0 L345.5,436.5 L347.0,435.5 L348.5,435.1 L350.0,434.2 L351.5,435.3 L353.0,436.6 L354.5,435.7 L356.0,435.1 L357.5,435.0 L359.0,434.2 L360.5,434.6 L362.0,434.4 L363.5,433.5 L365.0,433.3 L366.5,432.5 L368.0,431.9 L369.5,432.5 L371.0,432.4 L372.5,432.9 L374.0,432.2 L375.5,432.6 L377.0,431.8 L378.5,432.5 L380.0,433.3 L381.5,433.9 L383.0,433.3 L384.5,433.9 L386.0,433.8 L387.5,434.6 L389.0,435.3 L390.5,435.3 L392.0,436.1 L393.5,436.1 L395.0,435.7 L396.5,436.3 L398.0,435.3 L399.5,435.4 L401.0,435.4 L402.5,435.0 L404.0,434.5 L405.5,434.6 L407.0,434.6 L408.5,434.8 L410.0,434.0 L411.5,434.4 L413.0,434.0 L414.5,434.0 L416.0,434.3 L417.5,432.8 L419.0,433.5 L420.5,434.4 L422.0,435.2 L423.5,433.9 L425.0,433.4 L426.5,432.6 L428.0,432.6 L429.5,433.6 L431.0,434.1 L432.5,434.9 L434.0,434.4 L435.5,434.4 L437.0,433.5 L438.5,433.1 L440.0,432.6 L441.5,432.3 L443.0,433.6 L444.5,434.6 L446.0,434.1 L447.5,432.8 L449.0,432.4 L450.5,432.4 L452.0,431.5 L453.5,431.4 L455.0,431.0 L456.5,431.5 L458.0,431.4 L459.5,431.3 L461.0,429.7 L462.5,429.3 L464.0,428.1 L465.5,426.9 L467.0,427.8 L468.5,427.9 L470.0,426.6 L471.5,426.7 L473.0,425.2 L474.5,424.5 L476.0,424.7 L477.5,424.4 L479.0,423.4 L480.5,423.5 L482.0,423.5" fill="none" stroke="#8f8f8f" stroke-width="1.1"/>
<path d="M482.0,423.5 L483.5,423.2 L485.0,422.9 L486.5,422.9 L488.0,423.3 L489.5,423.0 L491.0,424.4 L492.5,424.9 L494.0,424.0 L495.5,424.1 L497.0,424.4 L498.5,424.2 L500.0,423.5 L501.5,424.5 L503.0,423.5 L504.5,423.0 L506.0,423.2 L507.5,424.6 L509.0,424.7 L510.5,425.8 L512.0,425.7 L513.5,426.0 L515.0,426.1 L516.5,426.4 L518.0,425.9 L519.5,424.8 L521.0,424.2 L522.5,424.6 L524.0,424.3 L525.5,424.8 L527.0,423.5 L528.5,422.6 L530.0,422.8 L531.5,423.5 L533.0,424.1 L534.5,426.1 L536.0,426.8 L537.5,428.0 L539.0,426.9 L540.5,426.5 L542.0,424.2 L543.5,425.0 L545.0,425.8 L546.5,426.4 L548.0,427.0 L549.5,427.8 L551.0,427.3 L552.5,426.3 L554.0,425.7 L555.5,424.4 L557.0,423.2 L558.5,422.3 L560.0,422.0 L561.5,422.5 L563.0,422.8 L564.5,422.8 L566.0,423.3 L567.5,422.8 L569.0,423.4 L570.5,423.3 L572.0,423.8 L573.5,423.4 L575.0,423.7 L576.5,423.4 L578.0,424.3 L579.5,424.1" fill="none" stroke="#5a5ab4" stroke-width="1.1"/>
<line x1="17.5" y1="424" x2="17.5" y2="448" stroke="#fff" stroke-width="1"/>
<line x1="206.5" y1="424" x2="206.5" y2="448" stroke="#fff" stroke-width="1"/>
<line x1="394.5" y1="424" x2="394.5" y2="448" stroke="#fff" stroke-width="1"/>
</g>
<text x="18.0" y="444" font-family='"Liberation Sans", sans-serif' font-size="10.5" fill="#222">21</text>
<text x="207.0" y="444" font-family='"Liberation Sans", sans-serif' font-size="10.5" fill="#222">22</text>
<text x="395.5" y="444" font-family='"Liberation Sans", sans-serif' font-size="10.5" fill="#222">23</text>
<line x1="481.5" y1="411" x2="481.5" y2="448" stroke="#1c9fd4" stroke-width="1"/>
<line x1="579.5" y1="411" x2="579.5" y2="448" stroke="#1c9fd4" stroke-width="1"/>
<rect x="475.5" y="415.5" width="13" height="29" fill="url(#ghandle)" stroke="#000" stroke-width="1"/>
<path d="M479.5,429.5 L483.8,425.8 L483.8,433.2 Z" fill="#000"/>
<rect x="572.5" y="415.5" width="13" height="29" fill="url(#ghandle)" stroke="#000" stroke-width="1"/>
<path d="M581.5,429.5 L577.2,425.8 L577.2,433.2 Z" fill="#000"/>
<rect x="11" y="449" width="568" height="10" fill="url(#gtrack)"/>
<rect x="489.5" y="448.5" width="81" height="10" fill="url(#gthumb)" stroke="#000" stroke-width="1"/>
<line x1="579.5" y1="448" x2="579.5" y2="459" stroke="#000" stroke-width="1"/>
</svg>
</div></body></html>
